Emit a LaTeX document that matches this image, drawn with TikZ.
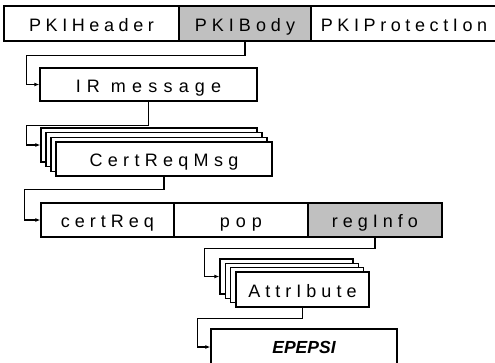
\documentclass[tikz,border=0pt]{standalone}
\usepackage{fontspec}
\setmainfont{Liberation Sans}
\usetikzlibrary{arrows.meta,calc}
\definecolor{boxgray}{HTML}{C0C0C0}
\makeatletter
\newcommand\lspc[2][5pt]{\def\lspc@k{#1}\lspc@a#2\relax}
\def\lspc@a#1{\ifx\relax#1\unkern\else#1\kern\lspc@k\relax\expandafter\lspc@a\fi}
\makeatother
\begin{document}
\begin{tikzpicture}[x=1pt,y=-1pt,
  box/.style={draw, line width=1.3pt, fill=white, inner sep=0pt, text height=15.6pt, text depth=0pt, font=\fontsize{18}{20}\selectfont},
  gbox/.style={box, fill=boxgray},
  conn/.style={line width=1.2pt, -{Latex[length=5pt,width=4pt]}}]
\useasboundingbox (0,0) rectangle (495,362);
% top row
\node[box, minimum width=175pt, minimum height=35pt] (hdr) at (91.5,23.5) {\lspc[4.6pt]{PKIHeader}};
\node[gbox, minimum width=132pt, minimum height=35pt] (body) at (245,23.5) {\lspc{PKIBody}};
\node[box, minimum width=186pt, minimum height=35pt] (prot) at (404,23.5) {\lspc[4.6pt]{PKIProtectIon}};
% IR message
\node[box, minimum width=217pt, minimum height=33pt] (ir) at (148.5,84.5) {\lspc[6.2pt]{IR}\hspace{11pt}\lspc[6.2pt]{message}};
% CertReqMsg stack
\foreach \i in {0,1,2}
  \node[box, minimum width=216pt, minimum height=34pt] (cert\i) at ({149+5*\i},{145+4.667*\i}) {};
\node[box, minimum width=216pt, minimum height=34pt] (cert3) at (164,159) {\lspc[5.3pt]{CertReqMsg}};
% row
\node[box, minimum width=133pt, minimum height=34pt] (certreq) at (107.5,220) {\lspc{certReq}};
\node[box, minimum width=134pt, minimum height=34pt] (pop) at (241,220) {\lspc[6pt]{pop}};
\node[gbox, minimum width=134pt, minimum height=34pt] (reginfo) at (375,220) {\lspc{regInfo}};
% Attribute stack
\foreach \i in {0,1,2}
  \node[box, minimum width=133pt, minimum height=35pt] (attr\i) at ({286.5+5.333*\i},{276.5+4.333*\i}) {};
\node[box, minimum width=133pt, minimum height=35pt] (attr3) at (302.5,289.5) {\lspc{AttrIbute}};
% EPEPSI
\node[box, minimum width=186pt, minimum height=36pt, text height=12.5pt, font=\fontsize{17.5}{19}\selectfont\bfseries\itshape] (eps) at (304,347) {EPEPSI};
% connectors
\draw[conn] (body.south) -- ++(0,14) -| ($(ir.west)+(-13,0)$) -- (ir.west);
\draw[conn] (ir.south) -- ++(0,24) -| ($(cert0.west)+(-14,0)$) -- (cert0.west);
\draw[conn] (cert3.south) -- ++(0,13) -| ($(certreq.west)+(-16,0)$) -- (certreq.west);
\draw[conn] (reginfo.south) -- ++(0,11) -| ($(attr0.west)+(-15,0)$) -- (attr0.west);
\draw[conn] (attr3.south) -- ++(0,11) -| ($(eps.west)+(-13,0)$) -- (eps.west);
\end{tikzpicture}
\end{document}
